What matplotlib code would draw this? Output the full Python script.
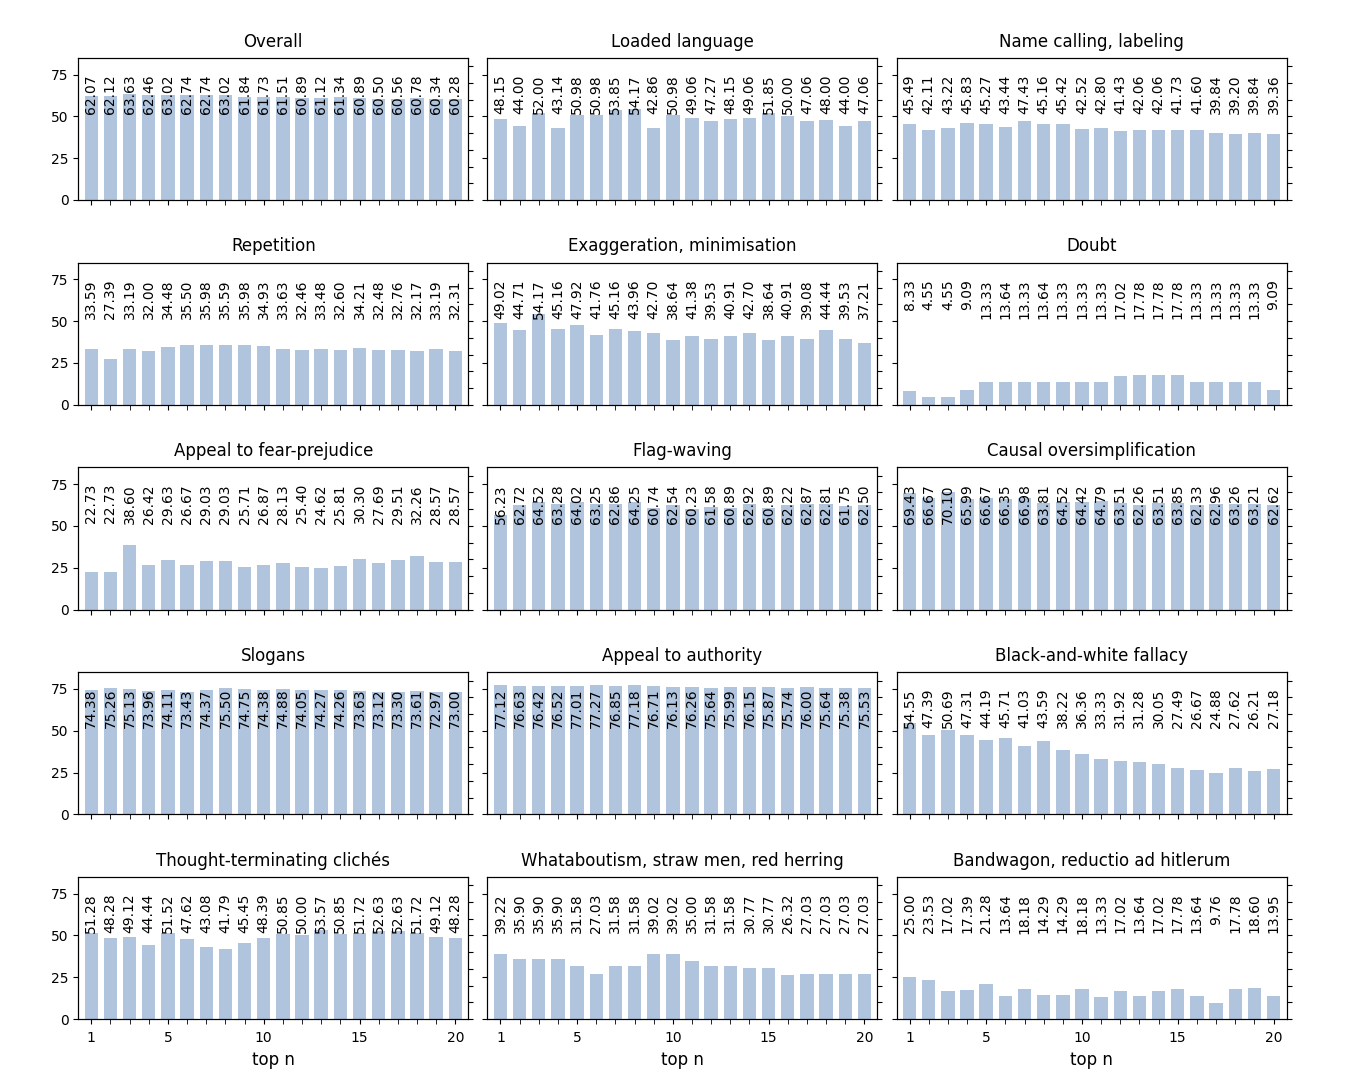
import numpy as np
import matplotlib
matplotlib.use("Agg")
import matplotlib.pyplot as plt

top_n = np.arange(1, 21)

titles = [
    "Overall", "Loaded language", "Name calling, labeling",
    "Repetition", "Exaggeration, minimisation", "Doubt",
    "Appeal to fear-prejudice", "Flag-waving", "Causal oversimplification",
    "Slogans", "Appeal to authority", "Black-and-white fallacy",
    "Thought-terminating clichés", "Whataboutism, straw men, red herring",
    "Bandwagon, reductio ad hitlerum",
]

overall = [62.07, 62.12, 63.63, 62.46, 63.02, 62.74, 62.74, 63.02, 61.84, 61.73,
           61.51, 60.89, 61.12, 61.34, 60.89, 60.50, 60.56, 60.78, 60.34, 60.28]
loaded = [48.15, 44.00, 52.00, 43.14, 50.98, 50.98, 53.85, 54.17, 42.86, 50.98,
          49.06, 47.27, 48.15, 49.06, 51.85, 50.00, 47.06, 48.00, 44.00, 47.06]
name_calling = [45.49, 42.11, 43.22, 45.83, 45.27, 43.44, 47.43, 45.16, 45.42, 42.52,
                42.80, 41.43, 42.06, 42.06, 41.73, 41.60, 39.84, 39.20, 39.84, 39.36]
repetition = [33.59, 27.39, 33.19, 32.00, 34.48, 35.50, 35.98, 35.59, 35.98, 34.93,
              33.63, 32.46, 33.48, 32.60, 34.21, 32.48, 32.76, 32.17, 33.19, 32.31]
exaggeration = [49.02, 44.71, 54.17, 45.16, 47.92, 41.76, 45.16, 43.96, 42.70, 38.64,
                41.38, 39.53, 40.91, 42.70, 38.64, 40.91, 39.08, 44.44, 39.53, 37.21]
doubt = [8.33, 4.55, 4.55, 9.09, 13.33, 13.64, 13.33, 13.64, 13.33, 13.33,
         13.33, 17.02, 17.78, 17.78, 17.78, 13.33, 13.33, 13.33, 13.33, 9.09]
fear = [22.73, 22.73, 38.60, 26.42, 29.63, 26.67, 29.03, 29.03, 25.71, 26.87,
        28.13, 25.40, 24.62, 25.81, 30.30, 27.69, 29.51, 32.26, 28.57, 28.57]
flag = [56.23, 62.72, 64.52, 63.28, 64.02, 63.25, 62.86, 64.25, 60.74, 62.54,
        60.23, 61.58, 60.89, 62.92, 60.89, 62.22, 62.87, 62.81, 61.75, 62.50]
causal = [69.43, 66.67, 70.10, 65.99, 66.67, 66.35, 66.98, 63.81, 64.52, 64.42,
          64.79, 63.51, 62.26, 63.51, 63.85, 62.33, 62.96, 63.26, 63.21, 62.62]
slogans = [74.38, 75.26, 75.13, 73.96, 74.11, 73.43, 74.37, 75.50, 74.75, 74.38,
           74.88, 74.05, 74.27, 74.26, 73.63, 73.12, 73.30, 73.61, 72.97, 73.00]
authority = [77.12, 76.63, 76.42, 76.52, 77.01, 77.27, 76.85, 77.18, 76.71, 76.13,
             76.26, 75.64, 75.99, 76.15, 75.87, 75.74, 76.00, 75.64, 75.38, 75.53]
black_white = [54.55, 47.39, 50.69, 47.31, 44.19, 45.71, 41.03, 43.59, 38.22, 36.36,
               33.33, 31.92, 31.28, 30.05, 27.49, 26.67, 24.88, 27.62, 26.21, 27.18]
cliches = [51.28, 48.28, 49.12, 44.44, 51.52, 47.62, 43.08, 41.79, 45.45, 48.39,
           50.85, 50.00, 53.57, 50.85, 51.72, 52.63, 52.63, 51.72, 49.12, 48.28]
whataboutism = [39.22, 35.90, 35.90, 35.90, 31.58, 27.03, 31.58, 31.58, 39.02, 39.02,
                35.00, 31.58, 31.58, 30.77, 30.77, 26.32, 27.03, 27.03, 27.03, 27.03]
bandwagon = [25.00, 23.53, 17.02, 17.39, 21.28, 13.64, 18.18, 14.29, 14.29, 18.18,
             13.33, 17.02, 13.64, 17.02, 17.78, 13.64, 9.76, 17.78, 18.60, 13.95]

series = [overall, loaded, name_calling, repetition, exaggeration, doubt,
          fear, flag, causal, slogans, authority, black_white,
          cliches, whataboutism, bandwagon]

fig, axes = plt.subplots(5, 3, figsize=(13.5, 10.9), dpi=100, sharex=True, sharey=True)
fig.subplots_adjust(left=0.058, right=0.953, top=0.947, bottom=0.065,
                    wspace=0.049, hspace=0.44)

for ax, title, vals in zip(axes.flat, titles, series):
    ax.bar(top_n, vals, width=0.7, color="lightsteelblue")
    for x, v in zip(top_n, vals):
        ax.text(x, 75, f"{v:.2f}", rotation=90, ha="center", va="top", fontsize=10)
    ax.set_title(title, fontsize=12, pad=8)
    ax.set_xlim(0.32, 20.68)
    ax.set_ylim(0, 85)
    ax.set_yticks([0, 25, 50, 75])
    ax.set_xticks([1, 5, 10, 15, 20])
    ax.set_xticks(top_n, minor=True)
    ax.tick_params(axis="x", which="both", length=3.5)

    # ticks on the right side (every 10), no labels
    ax2 = ax.twinx()
    ax2.set_ylim(0, 85)
    ax2.set_yticks(np.arange(0, 81, 10))
    ax2.set_yticklabels([])

for ax in axes[-1]:
    ax.set_xlabel("top n", fontsize=12)
    ax.tick_params(axis="x", pad=5)

fig.savefig("out.png")
